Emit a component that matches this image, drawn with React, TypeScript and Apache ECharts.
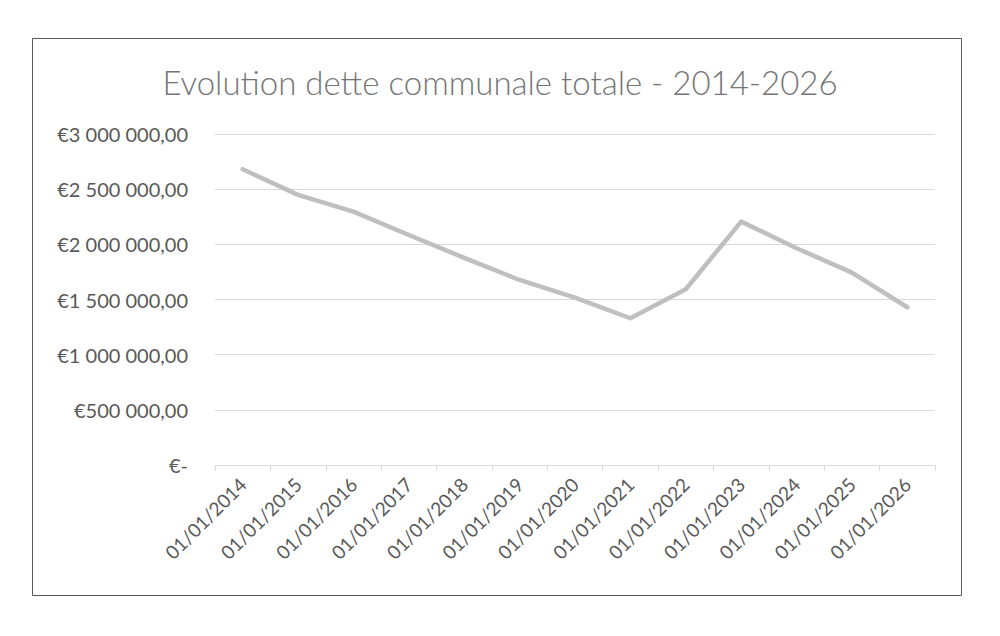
import React, { useEffect, useRef } from "react";
import * as echarts from "echarts";

const categories = [
  "01/01/2014", "01/01/2015", "01/01/2016", "01/01/2017", "01/01/2018",
  "01/01/2019", "01/01/2020", "01/01/2021", "01/01/2022", "01/01/2023",
  "01/01/2024", "01/01/2025", "01/01/2026",
];
const detteTotale = [
  2681000, 2448000, 2296000, 2085000, 1877000, 1677000, 1517000,
  1330000, 1593000, 2206000, 1965000, 1744000, 1430000,
];
const yTicks = [0, 500000, 1000000, 1500000, 2000000, 2500000, 3000000];
const title = "Evolution dette communale totale - 2014-2026";

function formatEuro(v: number): string {
  if (v === 0) return "€-";
  const s = Math.round(v).toString().replace(/\B(?=(\d{3})+(?!\d))/g, " ");
  return "€" + s + ",00";
}

export default function App() {
  const ref = useRef<HTMLDivElement>(null);
  useEffect(() => {
    if (!ref.current) return;
    const chart = echarts.init(ref.current, undefined, { renderer: "svg" });
    chart.setOption({
      animation: false,
      backgroundColor: "#ffffff",
      title: {
        text: title,
        left: "center",
        top: 60,
        textStyle: {
          fontFamily: "Lato",
          fontWeight: 300,
          fontSize: 33,
          color: "#757575",
        },
      },
      graphic: [
        {
          type: "rect",
          shape: { x: 32.5, y: 38.5, width: 929, height: 557 },
          style: { fill: "none", stroke: "#595959", lineWidth: 1 },
          silent: true,
        },
      ],
      grid: { left: 215, right: 65, top: 134, bottom: 171 },
      xAxis: {
        type: "category",
        data: categories,
        boundaryGap: true,
        axisLine: { show: true, lineStyle: { color: "#d9d9d9", width: 1 } },
        axisTick: { show: true, length: 6, lineStyle: { color: "#d9d9d9" } },
        axisLabel: {
          rotate: 45,
          interval: 0,
          margin: 16,
          fontFamily: "Lato",
          fontSize: 19,
          color: "#595959",
        },
      },
      yAxis: {
        type: "value",
        min: 0,
        max: 3000000,
        interval: 500000,
        axisLine: { show: false },
        axisTick: { show: false },
        splitLine: { lineStyle: { color: "#d9d9d9", width: 1 } },
        axisLabel: {
          margin: 27,
          fontFamily: "Lato",
          fontSize: 20,
          color: "#595959",
          formatter: (v: number) => (yTicks.includes(v) ? formatEuro(v) : ""),
        },
      },
      series: [
        {
          type: "line",
          data: detteTotale,
          showSymbol: false,
          symbol: "none",
          lineStyle: { color: "#bfbfbf", width: 4.5, cap: "round", join: "round" },
        },
      ],
    });
    return () => chart.dispose();
  }, []);
  return (
    <div
      ref={ref}
      style={{ position: "fixed", left: 0, top: 0, width: 1000, height: 636 }}
    />
  );
}
